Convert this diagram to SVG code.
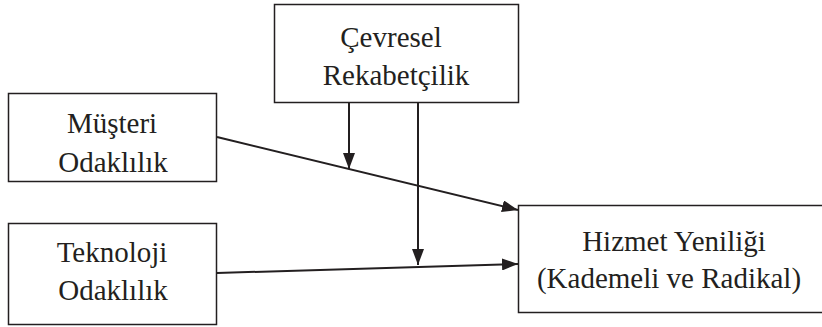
<svg xmlns="http://www.w3.org/2000/svg" width="822" height="327" viewBox="0 0 822 327">
  <style>
    .box { fill: #ffffff; stroke: #231f20; stroke-width: 1.5; }
    .lbl { font-family: "Liberation Serif", "Times New Roman", serif; font-size: 29px; fill: #231f20; text-anchor: middle; }
    .edge { stroke: #231f20; stroke-width: 2; fill: none; marker-end: url(#head); }
  </style>
  <defs>
    <marker id="head" viewBox="0 0 16 12" refX="16" refY="6" markerWidth="16" markerHeight="12" markerUnits="userSpaceOnUse" orient="auto">
      <path d="M0,0 L16,6 L0,12 Z" fill="#231f20"/>
    </marker>
  </defs>
  <rect width="822" height="327" fill="#ffffff"/>

  <g id="cevresel">
    <rect class="box" x="274.5" y="4.5" width="244" height="98"/>
    <text class="lbl" x="391" y="47">Çevresel</text>
    <text class="lbl" x="396" y="85">Rekabetçilik</text>
  </g>

  <g id="musteri">
    <rect class="box" x="8.5" y="93.5" width="208" height="88"/>
    <text class="lbl" x="112" y="133">Müşteri</text>
    <text class="lbl" x="113" y="172">Odaklılık</text>
  </g>

  <g id="teknoloji">
    <rect class="box" x="8.5" y="223.5" width="208" height="101"/>
    <text class="lbl" x="112" y="262">Teknoloji</text>
    <text class="lbl" x="113" y="300">Odaklılık</text>
  </g>

  <g id="hizmet">
    <rect class="box" x="518.5" y="205.5" width="330" height="107"/>
    <text class="lbl" x="674" y="251">Hizmet Yeniliği</text>
    <text class="lbl" x="669" y="288">(Kademeli ve Radikal)</text>
  </g>

  <g id="connectors">
    <line class="edge" x1="217" y1="137" x2="518" y2="210"/>
    <line class="edge" x1="217" y1="273" x2="518" y2="264"/>
    <line class="edge" x1="349" y1="103" x2="349" y2="169"/>
    <line class="edge" x1="418" y1="103" x2="418" y2="265"/>
  </g>
</svg>
